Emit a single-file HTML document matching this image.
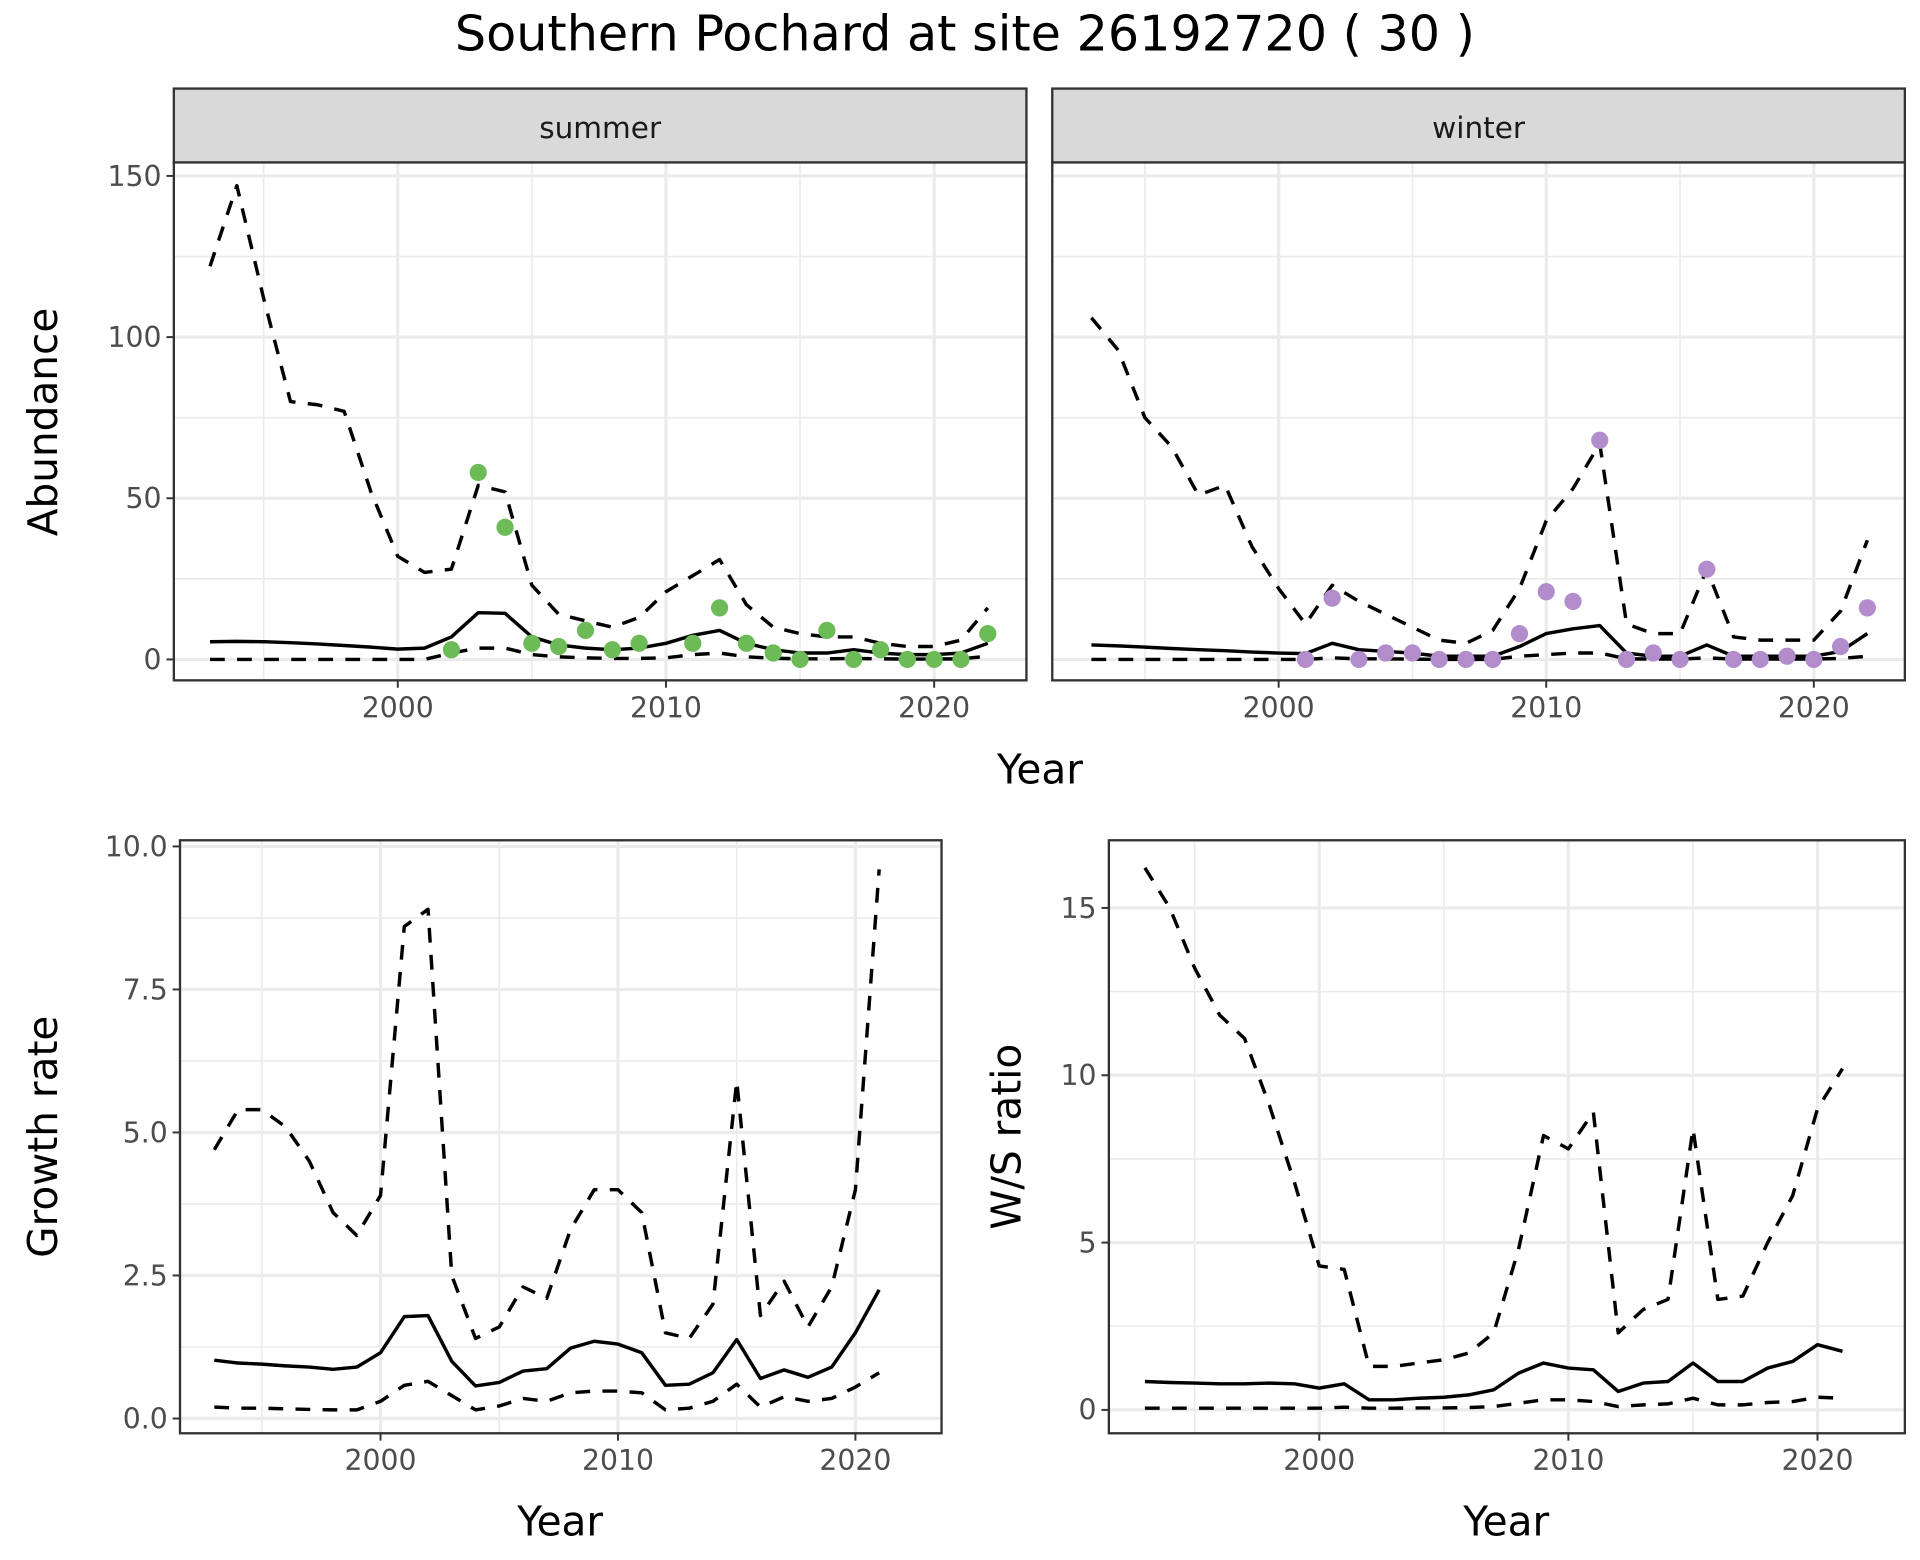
<!DOCTYPE html>
<html><head><meta charset="utf-8">
<style>
html,body{margin:0;padding:0;background:#fff;}
svg{display:block;font-family:"DejaVu Sans","Liberation Sans",sans-serif;}
</style></head>
<body>
<svg id="chart" width="1920" height="1560" viewBox="0 0 1560 1268" xmlns="http://www.w3.org/2000/svg">
<rect width="1560" height="1268" fill="#fff"/>
<text x="784" y="41" font-size="40" text-anchor="middle" fill="#000">Southern Pochard at site 26192720 ( 30 )</text>
<g id="root"></g>
</svg>
<script>
// ---- data ----
const yearsAbund = [1993,1994,1995,1996,1997,1998,1999,2000,2001,2002,2003,2004,2005,2006,2007,2008,2009,2010,2011,2012,2013,2014,2015,2016,2017,2018,2019,2020,2021,2022];
const summerUpper = [122,147,112,80,79,77,52,32,27,28,54,52,23,14,12,10,13,21,26,31,17,10,8,7,7,5,4,4,6,16];
const summerMean = [5.5,5.6,5.5,5.2,4.8,4.3,3.8,3.2,3.5,7,14.5,14.3,7,4.5,3.5,3,3.5,5,7.5,9,5,3,2,2,3,2,1.5,1.5,2,5];
const summerLower = [0,0,0,0,0,0,0,0,0,2,3.5,3.5,1.5,0.8,0.5,0.3,0.3,0.5,1.5,2,0.8,0.4,0.2,0.2,0.3,0.2,0.1,0.1,0.2,1];
const summerObsYears = [2002,2003,2004,2005,2006,2007,2008,2009,2011,2012,2013,2014,2015,2016,2017,2018,2019,2020,2021,2022];
const summerObs = [3,58,41,5,4,9,3,5,5,16,5,2,0,9,0,3,0,0,0,8];
const winterUpper = [106,96,75,66,51,54,35,22,11,23,18,14,10,6,5,9,22,43,53,67,11,8,8,28,7,6,6,6,15,37];
const winterMean = [4.5,4.2,3.8,3.4,3.0,2.7,2.3,2.0,1.8,5,3,2.5,2,1,1,1,4,8,9.5,10.5,2,1,1,4.5,1,1,1,1,2.5,8];
const winterLower = [0,0,0,0,0,0,0,0,0,0.5,0.2,0.2,0.1,0,0,0,1,1.5,2,2,0.2,0.1,0.1,0.5,0.1,0.1,0.1,0.1,0.3,1];
const winterObsYears = [2001,2002,2003,2004,2005,2006,2007,2008,2009,2010,2011,2012,2013,2014,2015,2016,2017,2018,2019,2020,2021,2022];
const winterObs = [0,19,0,2,2,0,0,0,8,21,18,68,0,2,0,28,0,0,1,0,4,16];
const yearsRate = [1993,1994,1995,1996,1997,1998,1999,2000,2001,2002,2003,2004,2005,2006,2007,2008,2009,2010,2011,2012,2013,2014,2015,2016,2017,2018,2019,2020,2021];
const growthUpper = [4.7,5.4,5.4,5.1,4.5,3.6,3.2,3.9,8.6,8.9,2.5,1.4,1.6,2.3,2.1,3.3,4.0,4.0,3.6,1.5,1.4,2.0,5.9,1.8,2.4,1.6,2.3,4.0,9.6];
const growthMean = [1.02,0.97,0.95,0.92,0.9,0.86,0.9,1.15,1.78,1.8,1.0,0.57,0.63,0.83,0.87,1.23,1.35,1.3,1.15,0.58,0.6,0.8,1.38,0.7,0.85,0.72,0.9,1.5,2.25];
const growthLower = [0.2,0.18,0.18,0.17,0.16,0.15,0.15,0.3,0.58,0.65,0.4,0.15,0.22,0.35,0.3,0.45,0.48,0.48,0.45,0.15,0.18,0.3,0.6,0.2,0.38,0.3,0.35,0.55,0.8];
const wsUpper = [16.2,15,13.2,11.8,11.1,9.1,6.8,4.3,4.2,1.3,1.3,1.4,1.5,1.7,2.3,4.8,8.2,7.8,8.9,2.3,3.0,3.3,8.4,3.3,3.4,5,6.4,9,10.2];
const wsMean = [0.85,0.82,0.8,0.78,0.78,0.8,0.78,0.65,0.78,0.3,0.3,0.35,0.38,0.45,0.6,1.1,1.4,1.25,1.2,0.55,0.8,0.85,1.4,0.85,0.85,1.25,1.45,1.95,1.75];
const wsLower = [0.05,0.05,0.05,0.05,0.05,0.05,0.05,0.05,0.08,0.05,0.05,0.06,0.06,0.07,0.1,0.2,0.3,0.3,0.25,0.1,0.15,0.18,0.35,0.15,0.15,0.22,0.25,0.38,0.35];
const xTicks = [2000,2010,2020];
const xMinor = [1995,2005,2015];
const abundTicks = [0,50,100,150];
const abundMinor = [25,75,125];
const growthTicks = [0,2.5,5,7.5,10];
const growthTickLabels = ["0.0","2.5","5.0","7.5","10.0"];
const wsTicks = [0,5,10,15];

const NS="http://www.w3.org/2000/svg";
const root=document.getElementById('root');
function mk(tag,attrs,parent){const e=document.createElementNS(NS,tag);for(const k in attrs)e.setAttribute(k,attrs[k]);(parent||root).appendChild(e);return e;}

function panel(p){
  const g=mk('g',{});
  
  
  const sx=v=>p.x0px+(v-p.x0v)*p.xs;
  const sy=v=>p.y0px-(v-p.y0v)*p.ys;
  mk('rect',{x:p.L,y:p.T,width:p.R-p.L,height:p.B-p.T,fill:'#fff'},g);
  (p.yMinor||[]).forEach(v=>{const l=mk('line',{x1:p.L,x2:p.R,y1:sy(v),y2:sy(v),stroke:'#ebebeb','stroke-width':1.3},g);
    });
  xMinor.forEach(v=>{const l=mk('line',{x1:sx(v),x2:sx(v),y1:p.T,y2:p.B,stroke:'#ebebeb','stroke-width':1.3},g);
    });
  p.yTicks.forEach((v,i)=>{const l=mk('line',{x1:p.L,x2:p.R,y1:sy(v),y2:sy(v),stroke:'#ebebeb','stroke-width':2.6},g);
    
    if(p.showY){mk('line',{x1:p.L-6,x2:p.L,y1:sy(v),y2:sy(v),stroke:'#333','stroke-width':1.6},g);
      const t=mk('text',{x:p.L-10,y:sy(v)+8,'font-size':23,'text-anchor':'end',fill:'#4d4d4d'},g);
      t.textContent=p.yLabels?p.yLabels[i]:String(v);
      }});
  xTicks.forEach(v=>{const l=mk('line',{x1:sx(v),x2:sx(v),y1:p.T,y2:p.B,stroke:'#ebebeb','stroke-width':2.6},g);
    
    mk('line',{x1:sx(v),x2:sx(v),y1:p.B,y2:p.B+6,stroke:'#333','stroke-width':1.6},g);
    const t=mk('text',{x:sx(v),y:p.B+30,'font-size':23,'text-anchor':'middle',fill:'#4d4d4d'},g);
    t.textContent=String(v);
    });
  function line(xs,ys,dash,nm){
    const d=xs.map((x,i)=>(i?'L':'M')+sx(x).toFixed(1)+','+sy(ys[i]).toFixed(1)).join(' ');
    const e=mk('path',{d:d,fill:'none',stroke:'#000','stroke-width':2.8,'stroke-dasharray':dash?'12,10':'none','stroke-linejoin':'round'},g);
    
    
  }
  line(p.xs_,p.upper,true,'upper-ci-line');
  line(p.xs_,p.lower,true,'lower-ci-line');
  line(p.xs_,p.mean,false,'mean-line');
  if(p.obs){p.obsX.forEach((x,i)=>{const c=mk('circle',{cx:sx(x),cy:sy(p.obs[i]),r:7,fill:p.color},g);
    
    });}
  mk('rect',{x:p.L,y:p.T,width:p.R-p.L,height:p.B-p.T,fill:'none',stroke:'#333','stroke-width':1.9},g);
  if(p.strip){
    const s=mk('rect',{x:p.L,y:p.T-60,width:p.R-p.L,height:60,fill:'#d9d9d9',stroke:'#333','stroke-width':1.9},g);
    
    const t=mk('text',{x:(p.L+p.R)/2,y:p.T-20,'font-size':24,'text-anchor':'middle',fill:'#1a1a1a'},g);
    t.textContent=p.strip;
    
  }
}
function label(txt,x,y,rot,nm){
  const t=mk('text',{x:x,y:y,'font-size':33,'text-anchor':'middle',fill:'#000',transform:rot?`rotate(-90 ${x} ${y})`:''});
  t.textContent=txt;
  
  
}

panel({name:'summer-panel',L:141,R:834,T:132,B:553,x0px:323,x0v:2000,xs:21.8,y0px:536,y0v:0,ys:393/150,
  yTicks:abundTicks,yMinor:abundMinor,showY:true,xs_:yearsAbund,upper:summerUpper,mean:summerMean,lower:summerLower,
  obsX:summerObsYears,obs:summerObs,color:'#6cbb57',strip:'summer'});
panel({name:'winter-panel',L:855,R:1548,T:132,B:553,x0px:1039,x0v:2000,xs:21.75,y0px:536,y0v:0,ys:393/150,
  yTicks:abundTicks,yMinor:abundMinor,showY:false,xs_:yearsAbund,upper:winterUpper,mean:winterMean,lower:winterLower,
  obsX:winterObsYears,obs:winterObs,color:'#b38ccc',strip:'winter'});
label('Abundance',46,343,true,'y-axis-title-abundance');
label('Year',845,637,false,'x-axis-title-top');

panel({name:'growth-rate-panel',L:146,R:765,T:683,B:1165,x0px:309,x0v:2000,xs:19.3,y0px:1153,y0v:0,ys:46.5,
  yTicks:growthTicks,yLabels:growthTickLabels,yMinor:[1.25,3.75,6.25,8.75],showY:true,xs_:yearsRate,upper:growthUpper,mean:growthMean,lower:growthLower});
label('Growth rate',46,924,true,'y-axis-title-growth');
label('Year',455,1248,false,'x-axis-title-growth');

panel({name:'ws-ratio-panel',L:901,R:1548,T:683,B:1165,x0px:1072,x0v:2000,xs:20.25,y0px:1146,y0v:0,ys:27.2,
  yTicks:wsTicks,yMinor:[2.5,7.5,12.5],showY:true,xs_:yearsRate,upper:wsUpper,mean:wsMean,lower:wsLower});
label('W/S ratio',829,924,true,'y-axis-title-ws');
label('Year',1224,1248,false,'x-axis-title-ws');
</script>
</body></html>
